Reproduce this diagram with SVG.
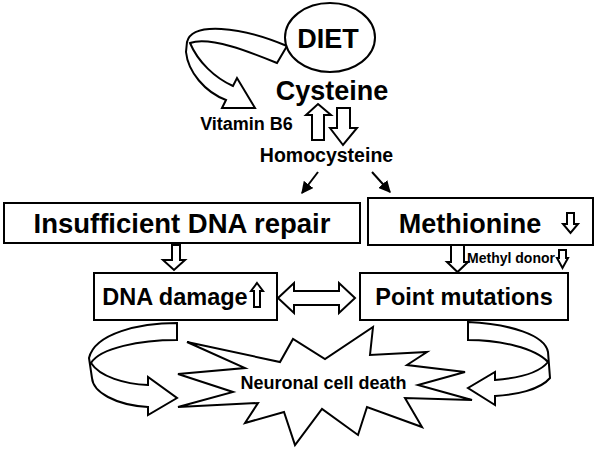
<svg xmlns="http://www.w3.org/2000/svg" width="600" height="451" viewBox="0 0 600 451">
<style>
.s{fill:#fff;stroke:#000;stroke-width:2;stroke-linejoin:miter}
.t{font-family:"Liberation Sans",Arial,sans-serif;font-weight:bold;fill:#000;text-anchor:middle}
.ln{stroke:#000;stroke-width:2;fill:none}
</style>
<defs>
<marker id="ah" viewBox="0 0 10 10" refX="9" refY="5" markerWidth="6" markerHeight="6" orient="auto" markerUnits="strokeWidth">
<path d="M0,0 L10,5 L0,10 Z" fill="#000"/>
</marker>
</defs>
<rect width="600" height="451" fill="#fff"/>
<g id="connectors">
<path class="s" d="M287,46 L277,63 C250,52 210,36 190,43 C198,62 215,78 233,86 L237,78 L255,108 L222,108 L226,100 C205,92 188,72 186,52 L187,42 C192,22 240,26 287,46 Z"/>
<path class="s" d="M318,104 L331,115 L324,115 L324,140 L312,140 L312,115 L306,115 Z"/>
<path class="s" d="M337,108 L350,108 L350,128 L357,128 L343,145 L330,128 L337,128 Z"/>
<line class="ln" x1="318" y1="172" x2="302" y2="193" marker-end="url(#ah)"/>
<line class="ln" x1="372" y1="172" x2="390" y2="192" marker-end="url(#ah)"/>
<path class="s" d="M172,245 L180,245 L180,260 L185,260 L174,270 L163,260 L172,260 Z"/>
<path class="s" d="M451,245 L464,245 L464,262 L468,262 L457.5,272 L447,262 L451,262 Z"/>
<path class="s" d="M559,250 L566,250 L566,258 L568,258 L562.5,268 L557,258 L559,258 Z"/>
<path class="s" d="M278,298 L294,283 L294,291 L339,291 L339,283 L355,298 L339,313 L339,305 L294,305 L294,313 Z"/>
<path class="s" d="M177,323 L177,340 C140,340 100,348 91,363 C100,377 125,384 148,385 L148,377 L177,398 L148,415 L148,407 C115,405 93,392 92,378 L89,358 C95,333 140,323 177,323 Z"/>
<path class="s" d="M468,322 L468,340 C500,340 535,348 548,362 C540,372 520,378 495,380 L495,372 L468,388 L495,405 L495,396 C515,395 540,390 550,378 L548,352 C545,335 510,324 468,322 Z"/>
</g>
<g id="diet">
<ellipse class="s" cx="330" cy="37.5" rx="45" ry="34.5"/>
<text class="t" x="328" y="48" font-size="27">DIET</text>
</g>
<g id="cysteine">
<text class="t" x="332" y="100" font-size="27">Cysteine</text>
</g>
<g id="vitaminb6">
<text class="t" x="246.5" y="130" font-size="18">Vitamin B6</text>
</g>
<g id="homocysteine">
<text class="t" x="326.5" y="162" font-size="19.5">Homocysteine</text>
</g>
<g id="repair">
<rect class="s" x="4" y="203" width="356" height="40"/>
<text class="t" x="182" y="233" font-size="27.5">Insufficient DNA repair</text>
</g>
<g id="methionine">
<rect class="s" x="368" y="198" width="225" height="47"/>
<text class="t" x="470" y="233" font-size="27">Methionine</text>
<path class="s" d="M567,213 L574,213 L574,224 L578,224 L570.5,233 L563,224 L567,224 Z"/>
</g>
<g id="methyldonor">
<text class="t" x="511" y="263" font-size="14">Methyl donor</text>
</g>
<g id="dnadamage">
<rect class="s" x="94" y="273" width="183" height="47"/>
<text class="t" x="175" y="305" font-size="23.5">DNA damage</text>
<path class="s" d="M257,283 L263,291 L260,291 L260,307 L254,307 L254,291 L251,291 Z"/>
</g>
<g id="pointmutations">
<rect class="s" x="360" y="273" width="208" height="47"/>
<text class="t" x="464" y="305" font-size="23.5">Point mutations</text>
</g>
<g id="death">
<polygon class="s" points="187,342 280,362 293,339 325,359 373,327 370,355 427,352 407,365 465,372 418,385 472,400 405,398 422,427 367,407 358,435 322,409 295,445 284,412 245,423 258,403 178,407 233,392 178,374 245,368"/>
<text class="t" x="323.5" y="389" font-size="18">Neuronal cell death</text>
</g>
</svg>
